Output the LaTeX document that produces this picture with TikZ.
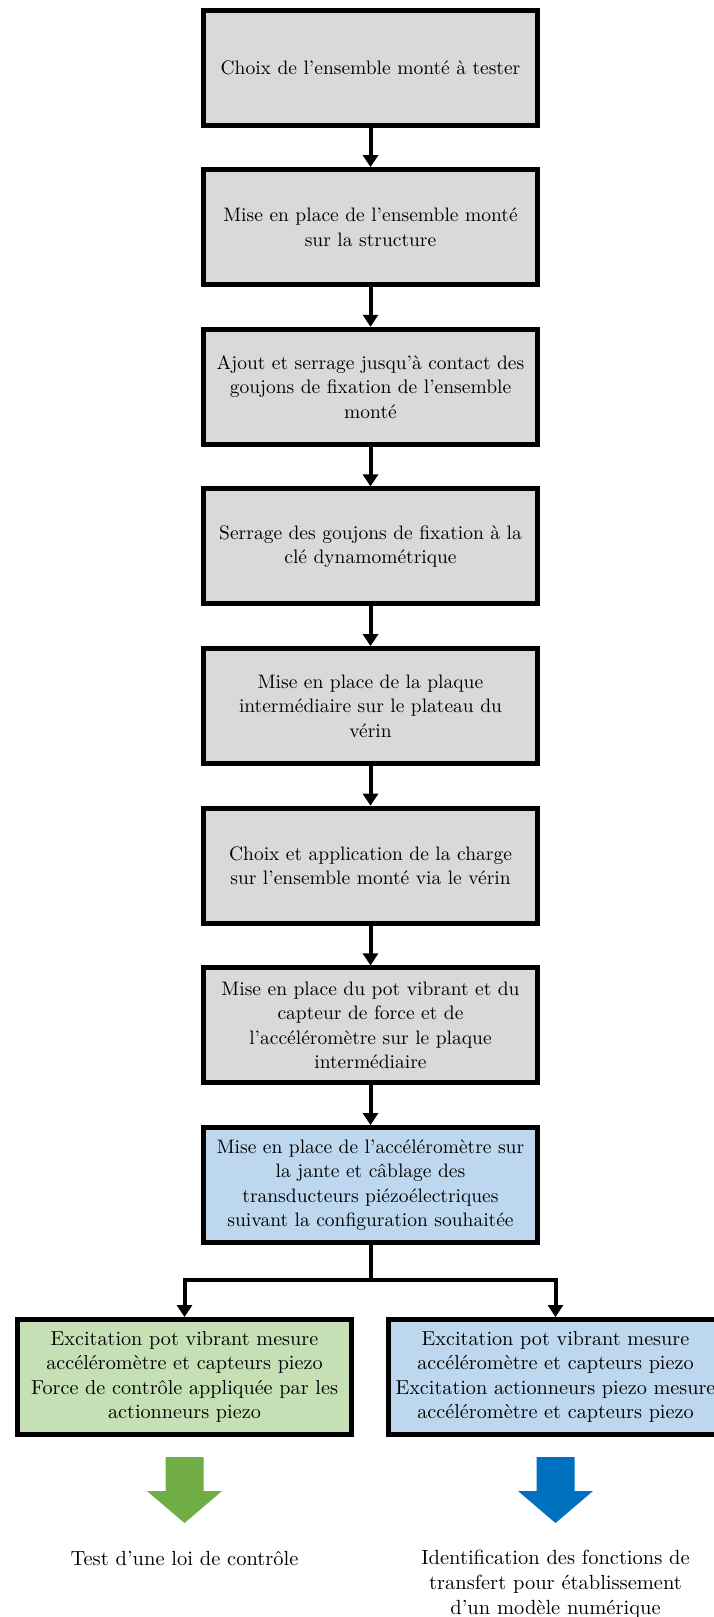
\documentclass[tikz,border=0pt]{standalone}
\usepackage{fontspec}
\usetikzlibrary{arrows.meta}
\definecolor{boxgrey}{HTML}{D9D9D9}
\definecolor{boxblue}{HTML}{BDD7EE}
\definecolor{boxgreen}{HTML}{C5E0B4}
\definecolor{fatgreen}{HTML}{70AD47}
\definecolor{fatblue}{HTML}{0070C0}
\begin{document}
\begin{tikzpicture}[x=0.5pt,y=-0.5pt,
  stepbox/.style={draw=black,line width=2.5pt,rectangle,inner sep=0pt,
    minimum width=167pt,minimum height=57.5pt,align=center,
    font=\fontsize{9.75}{12.2}\selectfont},
  greybox/.style={stepbox,fill=boxgrey},
  bluebox/.style={stepbox,fill=boxblue},
  greenbox/.style={stepbox,fill=boxgreen},
  endbox/.style={font=\fontsize{10.1}{12.1}\selectfont},
  link/.style={line width=2pt,-{Triangle[width=7.5pt,length=6pt]}},
  plainlink/.style={line width=2pt},
  label/.style={align=center,inner sep=0pt,font=\fontsize{10.25}{12.6}\selectfont}]
\useasboundingbox (0,0) rectangle (713,1617);
\node[greybox] (b1) at (370.5,67.5) {Choix de l’ensemble monté à tester};
\node[greybox] (b2) at (370.5,227.1) {Mise en place de l’ensemble monté\\sur la structure};
\node[greybox] (b3) at (370.5,386.8) {Ajout et serrage jusqu’à contact des\\goujons de fixation de l’ensemble\\monté};
\node[greybox] (b4) at (370.5,546.4) {Serrage des goujons de fixation à la\\clé dynamométrique};
\node[greybox] (b5) at (370.5,706.1) {Mise en place de la plaque\\intermédiaire sur le plateau du\\vérin};
\node[greybox] (b6) at (370.5,865.7) {Choix et application de la charge\\sur l’ensemble monté via le vérin};
\node[greybox] (b7) at (370.5,1025.4) {Mise en place du pot vibrant et du\\capteur de force et de\\l’accéléromètre sur le plaque\\intermédiaire};
\node[bluebox] (b8) at (370.5,1185) {Mise en place de l’accéléromètre sur\\la jante et câblage des\\transducteurs piézoélectriques\\suivant la configuration souhaitée};
\node[greenbox,endbox] (bl) at (184.5,1377) {Excitation pot vibrant mesure\\accéléromètre et capteurs piezo\\Force de contrôle appliquée par les\\actionneurs piezo};
\node[bluebox,endbox] (br) at (555.5,1377) {Excitation pot vibrant mesure\\accéléromètre et capteurs piezo\\Excitation actionneurs piezo mesure\\accéléromètre et capteurs piezo};
\foreach \a/\b in {b1/b2,b2/b3,b3/b4,b4/b5,b5/b6,b6/b7,b7/b8}
  \draw[link] (\a.south) -- (\b.north);
\coordinate (split) at (370.5,1280);
\draw[plainlink] (b8.south) -- (split);
\draw[link] (split) -| (bl.north);
\draw[link] (split) -| (br.north);
\fill[fatgreen] (165.5,1457) -- (203.5,1457) -- (203.5,1491) -- (222,1491) -- (184.5,1523) -- (147,1491) -- (165.5,1491) -- cycle;
\fill[fatblue] (536.5,1457) -- (574.5,1457) -- (574.5,1491) -- (593,1491) -- (555.5,1523) -- (518,1491) -- (536.5,1491) -- cycle;
\node[label] (tl) at (184.5,1558) {Test d’une loi de contrôle};
\node[label] (tr) at (555.5,1584) {Identification des fonctions de\\transfert pour établissement\\d’un modèle numérique};
\end{tikzpicture}
\end{document}
